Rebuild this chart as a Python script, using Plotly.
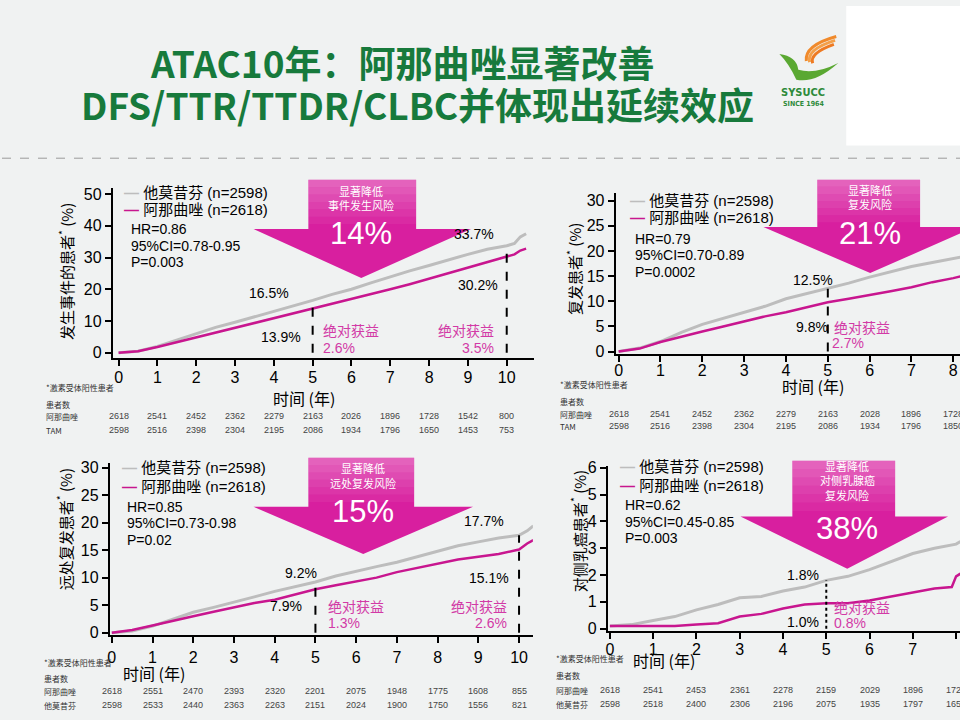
import plotly.graph_objects as go

W, H = 960, 720
FONT = "Liberation Sans, Noto Sans CJK SC, sans-serif"
CJK = "Noto Sans CJK SC, sans-serif"
GRAY = "#bdbdbd"
MAG = "#c8168f"
MAGTXT = "#d23aa6"
ARROW = "#d81f9f"

# ---------------- data ----------------
# Panel 1: DFS events (%)
t1 = [0, 0.5, 1, 1.5, 2, 2.5, 3, 3.5, 4, 4.5, 5, 5.5, 6, 6.5, 7, 7.5, 8, 8.5, 9, 9.5, 10, 10.2, 10.35, 10.5]
tam1 = [0, 0.5, 2.0, 4.0, 6.0, 8.0, 9.6, 11.3, 13.2, 14.8, 16.5, 18.4, 20.0, 22.0, 24.0, 25.8, 27.5, 29.3, 31.0, 32.6, 33.7, 34.4, 36.5, 37.5]
ana1 = [0, 0.5, 1.8, 3.3, 4.8, 6.3, 7.8, 9.3, 10.9, 12.4, 13.9, 15.3, 16.8, 18.4, 20.0, 21.6, 23.3, 25.0, 26.8, 28.5, 30.2, 31.0, 32.2, 32.8]
# Panel 2: TTR (%)
t2 = [0, 0.5, 1, 1.5, 2, 2.5, 3, 3.5, 4, 4.5, 5, 5.5, 6, 6.5, 7, 7.5, 8, 8.2]
tam2 = [0, 0.7, 2.0, 3.8, 5.4, 6.6, 7.8, 9.0, 10.5, 11.5, 12.5, 13.6, 14.8, 15.9, 16.9, 17.7, 18.4, 18.8]
ana2 = [0, 0.6, 1.9, 3.0, 4.0, 5.0, 6.0, 7.0, 7.8, 8.8, 9.8, 10.5, 11.2, 12.0, 12.8, 13.8, 14.6, 15.0]
# Panel 3: TTDR (%)
t3 = [0, 0.5, 1, 1.5, 2, 2.5, 3, 3.5, 4, 4.5, 5, 5.5, 6, 6.5, 7, 7.5, 8, 8.5, 9, 9.5, 10, 10.2, 10.35]
tam3 = [0, 0.3, 1.2, 2.5, 3.7, 4.6, 5.5, 6.5, 7.5, 8.3, 9.2, 10.3, 11.2, 12.0, 12.8, 13.8, 14.8, 15.8, 16.5, 17.2, 17.7, 18.5, 19.4]
ana3 = [0, 0.5, 1.3, 2.2, 3.0, 3.8, 4.6, 5.4, 6.0, 7.0, 7.9, 8.6, 9.3, 10.0, 11.0, 11.8, 12.6, 13.3, 13.8, 14.3, 15.1, 16.2, 16.8]
# Panel 4: CLBC (%)
t4 = [0, 0.5, 1, 1.5, 2, 2.5, 3, 3.5, 4, 4.5, 5, 5.5, 6, 6.5, 7, 7.5, 7.9, 8.0, 8.1]
tam4 = [0.1, 0.15, 0.3, 0.45, 0.7, 0.9, 1.15, 1.2, 1.4, 1.55, 1.8, 1.95, 2.2, 2.5, 2.8, 3.0, 3.1, 3.15, 3.25]
ana4 = [0.1, 0.1, 0.1, 0.1, 0.15, 0.2, 0.45, 0.55, 0.75, 0.9, 0.95, 0.95, 1.05, 1.2, 1.35, 1.5, 1.55, 1.95, 2.05]

# numbers at risk
years = list(range(11))
risk1_ana = [2618, 2541, 2452, 2362, 2279, 2163, 2026, 1896, 1728, 1542, 800]
risk1_tam = [2598, 2516, 2398, 2304, 2195, 2086, 1934, 1796, 1650, 1453, 753]
risk2_ana = [2618, 2541, 2452, 2362, 2279, 2163, 2028, 1896, 1728]
risk2_tam = [2598, 2516, 2398, 2304, 2195, 2086, 1934, 1796, 1850]
risk3_ana = [2618, 2551, 2470, 2393, 2320, 2201, 2075, 1948, 1775, 1608, 855]
risk3_tam = [2598, 2533, 2440, 2363, 2263, 2151, 2024, 1900, 1750, 1556, 821]
risk4_ana = [2618, 2541, 2453, 2361, 2278, 2159, 2029, 1896, 1728]
risk4_tam = [2598, 2518, 2400, 2306, 2196, 2075, 1935, 1797, 1650]

# ---------------- helpers ----------------
def px(x):
    return x / W

def py(y):
    return 1 - y / H

def txt(x, y, s, size=14, color="black", xa="center", ya="middle", font=FONT, angle=0):
    return dict(x=px(x), y=py(y), xref="paper", yref="paper", text=s, showarrow=False,
                font=dict(size=size, color=color, family=font), xanchor=xa, yanchor=ya,
                textangle=angle)

fig = go.Figure()

panels = [
    dict(t=t1, tam=tam1, ana=ana1, xa="x", ya="y"),
    dict(t=t2, tam=tam2, ana=ana2, xa="x2", ya="y2"),
    dict(t=t3, tam=tam3, ana=ana3, xa="x3", ya="y3"),
    dict(t=t4, tam=tam4, ana=ana4, xa="x4", ya="y4"),
]
for p in panels:
    fig.add_trace(go.Scatter(x=p["t"], y=p["tam"], mode="lines", name="他莫昔芬 (n=2598)",
                             line=dict(color=GRAY, width=3), xaxis=p["xa"], yaxis=p["ya"],
                             showlegend=False))
    fig.add_trace(go.Scatter(x=p["t"], y=p["ana"], mode="lines", name="阿那曲唑 (n=2618)",
                             line=dict(color=MAG, width=2.5), xaxis=p["xa"], yaxis=p["ya"],
                             showlegend=False))

# dashed reference lines at 5 and 10 years (height = TAM value at that time)
def vline(t, vals, at, xa, ya, dash="dash"):
    v = vals[t.index(at)]
    fig.add_trace(go.Scatter(x=[at, at], y=[0, v], mode="lines", showlegend=False,
                             line=dict(color="black", width=2, dash=dash), xaxis=xa, yaxis=ya))

vline(t1, tam1, 5, "x", "y")
vline(t1, tam1, 10, "x", "y")
vline(t2, tam2, 5, "x2", "y2")
vline(t3, tam3, 5, "x3", "y3")
vline(t3, tam3, 10, "x3", "y3")
vline(t4, tam4, 5, "x4", "y4", dash="dot")

# ---------------- axes ----------------
def axis_common(**kw):
    d = dict(showline=True, linecolor="black", linewidth=2, ticks="outside", ticklen=6,
             tickwidth=2, tickcolor="black", showgrid=False, zeroline=False,
             tickfont=dict(size=16, color="black", family=FONT))
    d.update(kw)
    return d

layout_axes = dict(
    xaxis=axis_common(domain=[px(111), px(533)], range=[-0.15, 10.7], anchor="y", tickvals=years,
                      ticklabelstandoff=-2),
    yaxis=axis_common(domain=[py(358), py(185)], range=[-1.5, 52], anchor="x", tickvals=[0, 10, 20, 30, 40, 50]),
    xaxis2=axis_common(domain=[px(615), 1.0], range=[-0.07, 8.16], anchor="y2", tickvals=years[:9],
                       ticklabelstandoff=-5),
    yaxis2=axis_common(domain=[py(354), py(190)], range=[-0.4, 31.6], anchor="x2", tickvals=[0, 5, 10, 15, 20, 25, 30]),
    xaxis3=axis_common(domain=[px(108), px(532)], range=[-0.05, 10.34], anchor="y3", tickvals=years),
    yaxis3=axis_common(domain=[py(641), py(465)], range=[-0.5, 30.9], anchor="x3", tickvals=[0, 5, 10, 15, 20, 25, 30]),
    xaxis4=axis_common(domain=[px(607), 1.0], range=[-0.05, 8.09], anchor="y4", tickvals=years[:9],
                       ticklabelstandoff=-3),
    yaxis4=axis_common(domain=[py(636), py(468)], range=[-0.07, 6.08], anchor="x4", tickvals=[0, 1, 2, 3, 4, 5, 6]),
)

# ---------------- shapes ----------------
shapes = []
# white block top-right and separator line
shapes.append(dict(type="rect", xref="paper", yref="paper", x0=px(846), x1=1, y0=py(142), y1=1,
                   fillcolor="white", line=dict(width=0), layer="below"))
shapes.append(dict(type="line", xref="paper", yref="paper", x0=0, x1=1, y0=py(155), y1=py(155),
                   line=dict(color="#9a9a9a", width=1, dash="dash")))

def arrow(sx0, sx1, top, hx0, hx1, hy, tipx, tipy):
    pts = [(sx0, top), (sx1, top), (sx1, hy), (hx1, hy), (tipx, tipy), (hx0, hy), (sx0, hy)]
    path = "M " + " L ".join(f"{px(a):.5f},{py(b):.5f}" for a, b in pts) + " Z"
    shapes.append(dict(type="path", xref="paper", yref="paper", path=path, fillcolor=ARROW,
                       line=dict(width=0), layer="above"))
    # lighter top of shaft (fake gradient)
    n = 6
    h = (hy - top) * 0.9
    for i in range(n):
        y0 = top + h * i / n
        y1 = top + h * (i + 1) / n
        shapes.append(dict(type="rect", xref="paper", yref="paper", x0=px(sx0), x1=px(sx1),
                           y0=py(y1), y1=py(y0), fillcolor="white", opacity=0.3 * (1 - i / n),
                           line=dict(width=0), layer="above"))

arrow(307, 415, 177, 252, 470, 227, 360, 277)
arrow(817, 920, 177, 763, 975, 225, 870, 272)
arrow(307, 413, 460, 252, 472, 510, 362, 558)
arrow(792, 895, 463, 740, 948, 520, 847, 573)

# logo swoosh
shapes.append(dict(type="path", xref="paper", yref="paper",
                   path=(f"M {px(779):.5f},{py(49):.5f} "
                         f"Q {px(796):.5f},{py(51):.5f} {px(798):.5f},{py(65):.5f} "
                         f"Q {px(815):.5f},{py(70):.5f} {px(838):.5f},{py(58):.5f} "
                         f"Q {px(815):.5f},{py(79):.5f} {px(796):.5f},{py(75):.5f} "
                         f"Q {px(788):.5f},{py(58):.5f} {px(779):.5f},{py(49):.5f} Z"),
                   fillcolor="#5aa832", line=dict(width=0)))
for k, col in enumerate(["#f08a2c", "#f4a04a", "#ee7a22"]):
    off = k * 4
    shapes.append(dict(type="path", xref="paper", yref="paper",
                       path=(f"M {px(836 - off * 0.3):.5f},{py(31 + off):.5f} "
                             f"Q {px(804 + off * 0.6):.5f},{py(40 + off):.5f} {px(806 + off * 0.8):.5f},{py(56 + off * 0.3):.5f}"),
                       line=dict(color=col, width=3)))

# ---------------- annotations ----------------
ann = []
# title
ann.append(txt(401, 57, "<b>ATAC10年：阿那曲唑显著改善</b>", size=37, color="#177a3c", font=CJK))
ann.append(txt(416, 100, "<b>DFS/TTR/TTDR/CLBC并体现出延续效应</b>", size=37, color="#177a3c", font=CJK))
ann.append(txt(803, 88, "<b>SYSUCC</b>", size=11, color="#2e8a3a", font="DejaVu Sans Condensed, Liberation Sans"))
ann.append(txt(803, 100, "<b>SINCE 1964</b>", size=7, color="#2e8a3a", font="DejaVu Sans Condensed, Liberation Sans"))

def legend(x, y1, y2, size=15):
    ann.append(txt(x, y1, f"<span style='color:{GRAY}'><b>—</b></span> 他莫昔芬 (n=2598)", size=size, xa="left"))
    ann.append(txt(x, y2, f"<span style='color:{MAG}'><b>—</b></span> 阿那曲唑 (n=2618)", size=size, xa="left"))

def stats(x, y, hr, ci, p, size=14, dy=17):
    ann.append(txt(x, y, hr, size=size, xa="left"))
    ann.append(txt(x, y + dy, ci, size=size, xa="left"))
    ann.append(txt(x, y + 2 * dy, p, size=size, xa="left"))

def arrowtext(x, lines, ys, big, ybig):
    for s, y in zip(lines, ys):
        ann.append(txt(x, y, s, size=11, color="white", font=CJK))
    ann.append(txt(x, ybig, big, size=31, color="white"))

def risk(xa, yrows, ana, tam, labels, lx):
    header, n_lbl, ana_lbl, tam_lbl = labels
    ann.append(txt(lx, yrows[0], header, size=8, color="#333", xa="left", font=CJK))
    ann.append(txt(lx, yrows[1], n_lbl, size=8, color="#333", xa="left", font=CJK))
    ann.append(txt(lx, yrows[2], ana_lbl, size=8, color="#333", xa="left", font=CJK))
    ann.append(txt(lx, yrows[3], tam_lbl, size=8, color="#333", xa="left", font=CJK))
    for yr, v in zip(years, ana):
        ann.append(dict(x=yr, y=py(yrows[2]), xref=xa, yref="paper", text=str(v), showarrow=False,
                        font=dict(size=9, color="#444", family=FONT), xanchor="center", yanchor="middle"))
    for yr, v in zip(years, tam):
        ann.append(dict(x=yr, y=py(yrows[3]), xref=xa, yref="paper", text=str(v), showarrow=False,
                        font=dict(size=9, color="#444", family=FONT), xanchor="center", yanchor="middle"))

# Panel 1
legend(120, 190, 207)
stats(127, 227, "HR=0.86", "95%CI=0.78-0.95", "P=0.003")
arrowtext(360, ["显著降低", "事件发生风险"], [188, 203], "14%", 232)
ann += [txt(268, 292, "16.5%", 14), txt(280, 337, "13.9%", 14),
        txt(473, 232, "33.7%", 14), txt(477, 284, "30.2%", 14),
        txt(320, 330, "绝对获益", 14, MAGTXT, xa="left", font=CJK), txt(320, 348, "2.6%", 14, MAGTXT, xa="left"),
        txt(495, 330, "绝对获益", 14, MAGTXT, xa="right", font=CJK), txt(495, 348, "3.5%", 14, MAGTXT, xa="right"),
        txt(303, 399, "时间 (年)", 16, font=CJK),
        txt(64, 270, "发生事件的患者<sup>*</sup> (%)", 15, angle=-90, font=CJK)]
risk("x", [389, 406, 418, 432], risk1_ana, risk1_tam, ["*激素受体阳性患者", "患者数", "阿那曲唑", "TAM"], 42)

# Panel 2
legend(627, 198, 215)
stats(632, 237, "HR=0.79", "95%CI=0.70-0.89", "P=0.0002")
arrowtext(870, ["显著降低", "复发风险"], [187, 202], "21%", 232)
ann += [txt(813, 279, "12.5%", 14), txt(812, 327, "9.8%", 14),
        txt(832, 327, "绝对获益", 14, MAGTXT, xa="left", font=CJK), txt(830, 343, "2.7%", 14, MAGTXT, xa="left"),
        txt(813, 387, "时间 (年)", 16, font=CJK),
        txt(573, 268, "复发患者<sup>*</sup> (%)", 15, angle=-90, font=CJK)]
risk("x2", [385, 403, 416, 428], risk2_ana, risk2_tam, ["*激素受体阳性患者", "患者数", "阿那曲唑", "TAM"], 557)

# Panel 3
legend(118, 470, 489)
stats(123, 510, "HR=0.85", "95%CI=0.73-0.98", "P=0.02")
arrowtext(362, ["显著降低", "远处复发风险"], [470, 486], "15%", 515)
ann += [txt(300, 577, "9.2%", 14), txt(285, 611, "7.9%", 14),
        txt(483, 524, "17.7%", 14), txt(488, 583, "15.1%", 14),
        txt(325, 611, "绝对获益", 14, MAGTXT, xa="left", font=CJK), txt(325, 628, "1.3%", 14, MAGTXT, xa="left"),
        txt(508, 611, "绝对获益", 14, MAGTXT, xa="right", font=CJK), txt(508, 628, "2.6%", 14, MAGTXT, xa="right"),
        txt(152, 679, "时间 (年)", 16, font=CJK),
        txt(63, 533, "远处复发患者<sup>*</sup> (%)", 15, angle=-90, font=CJK)]
risk("x3", [669, 685, 698, 712], risk3_ana, risk3_tam, ["*激素受体阳性患者", "患者数", "阿那曲唑", "他莫昔芬"], 40)

# Panel 4
legend(617, 469, 488)
stats(622, 508, "HR=0.62", "95%CI=0.45-0.85", "P=0.003")
arrowtext(847, ["显著降低", "对侧乳腺癌", "复发风险"], [468, 483, 498], "38%", 532)
ann += [txt(803, 579, "1.8%", 14), txt(803, 627, "1.0%", 14),
        txt(832, 612, "绝对获益", 14, MAGTXT, xa="left", font=CJK), txt(832, 628, "0.8%", 14, MAGTXT, xa="left"),
        txt(663, 666, "时间 (年)", 16, font=CJK),
        txt(578, 535, "对侧乳癌患者<sup>*</sup> (%)", 15, angle=-90, font=CJK)]
risk("x4", [665, 682, 697, 711], risk4_ana, risk4_tam, ["*激素受体阳性患者", "患者数", "阿那曲唑", "他莫昔芬"], 553)

fig.update_layout(
    width=W, height=H, margin=dict(l=0, r=0, t=0, b=0),
    paper_bgcolor="#f0f2f2", plot_bgcolor="rgba(0,0,0,0)",
    showlegend=False, shapes=shapes, annotations=ann,
    font=dict(family=FONT), **layout_axes,
)

fig.write_html("out.html", config={"displayModeBar": False},
               post_script="document.body.style.margin='0';document.body.style.overflow='hidden';")
